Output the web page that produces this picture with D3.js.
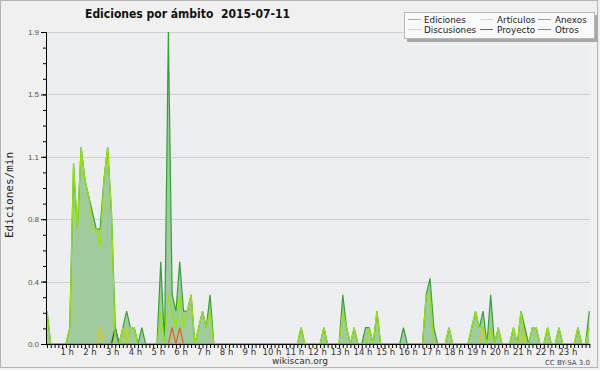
<!DOCTYPE html>
<html>
<head>
<meta charset="utf-8">
<script src="https://cdn.jsdelivr.net/npm/d3@7"></script>
<style>
  body { margin: 0; background: #f0f0f0; }
  svg { display: block; }
</style>
</head>
<body>
<div id="chart"></div>
<script>
// valores cada 10 minutos (ediciones/min), 144 puntos
const ediciones = [
  0.2, 0, 0, 0, 0, 0, 0.1, 1.1, 0.7, 1.2, 1.0, 0.9,
  0.8, 0.7, 0.7, 1.0, 1.2, 0.8, 0.1, 0, 0.1, 0.2, 0.1, 0.1,
  0, 0.1, 0, 0, 0, 0, 0.5, 0, 1.9, 0.3, 0.2, 0.5,
  0.2, 0.2, 0.3, 0, 0.1, 0.2, 0.1, 0.3, 0, 0, 0, 0,
  0, 0, 0, 0, 0, 0, 0, 0, 0, 0, 0, 0,
  0, 0, 0, 0, 0, 0, 0, 0.1, 0, 0, 0, 0,
  0, 0.1, 0, 0, 0, 0, 0.3, 0.1, 0, 0.1, 0, 0,
  0.1, 0.1, 0, 0.2, 0, 0, 0, 0, 0, 0, 0.1, 0,
  0, 0, 0, 0, 0.3, 0.4, 0.1, 0, 0, 0, 0.1, 0,
  0, 0, 0, 0, 0.1, 0.2, 0.1, 0.2, 0, 0.3, 0, 0.1,
  0, 0, 0, 0.1, 0, 0.2, 0.1, 0, 0.1, 0.1, 0, 0,
  0.1, 0, 0, 0.1, 0, 0, 0, 0, 0.1, 0, 0, 0.2
];
const articulos = [
  0.2, 0, 0, 0, 0, 0, 0.1, 1.1, 0.7, 1.2, 1.0, 0.9,
  0.7, 0.7, 0.6, 1.0, 1.2, 0.8, 0, 0, 0.1, 0, 0.1, 0.1,
  0, 0, 0, 0, 0, 0, 0.2, 0, 0.3, 0.2, 0.1, 0.3,
  0.1, 0.2, 0.3, 0, 0.1, 0.2, 0.1, 0.2, 0, 0, 0, 0,
  0, 0, 0, 0, 0, 0, 0, 0, 0, 0, 0, 0,
  0, 0, 0, 0, 0, 0, 0, 0.1, 0, 0, 0, 0,
  0, 0.1, 0, 0, 0, 0, 0.2, 0.1, 0, 0.1, 0, 0,
  0, 0.1, 0, 0.2, 0, 0, 0, 0, 0, 0, 0, 0,
  0, 0, 0, 0, 0.3, 0.3, 0, 0, 0, 0, 0.1, 0,
  0, 0, 0, 0, 0.1, 0.2, 0.1, 0.1, 0, 0.1, 0, 0.1,
  0, 0, 0, 0.1, 0, 0.2, 0, 0, 0.1, 0.1, 0, 0,
  0.1, 0, 0, 0.1, 0, 0, 0, 0, 0.1, 0, 0, 0.1
];
const discusiones = [
  0, 0, 0, 0, 0, 0, 0, 0, 0, 0, 0, 0,
  0, 0, 0.1, 0, 0, 0, 0, 0, 0, 0.1, 0, 0,
  0, 0, 0, 0, 0, 0, 0, 0, 0, 0, 0, 0,
  0, 0, 0, 0, 0, 0, 0, 0, 0, 0, 0, 0,
  0, 0, 0, 0, 0, 0, 0, 0, 0, 0, 0, 0,
  0, 0, 0, 0, 0, 0, 0, 0, 0, 0, 0, 0,
  0, 0, 0, 0, 0, 0, 0, 0, 0, 0, 0, 0,
  0, 0, 0, 0, 0, 0, 0, 0, 0, 0, 0, 0,
  0, 0, 0, 0, 0, 0, 0, 0, 0, 0, 0, 0,
  0, 0, 0, 0, 0, 0, 0, 0.1, 0, 0.1, 0, 0,
  0, 0, 0, 0, 0, 0, 0.1, 0, 0, 0, 0, 0,
  0, 0, 0, 0, 0, 0, 0, 0, 0, 0, 0, 0
];
const anexos = [
  0, 0, 0, 0, 0, 0, 0, 0, 0, 0, 0, 0,
  0, 0, 0, 0, 0, 0, 0, 0, 0, 0, 0, 0,
  0, 0, 0, 0, 0, 0, 0, 0, 0, 0.1, 0, 0.1,
  0, 0, 0, 0, 0, 0, 0, 0, 0, 0, 0, 0,
  0, 0, 0, 0, 0, 0, 0, 0, 0, 0, 0, 0,
  0, 0, 0, 0, 0, 0, 0, 0, 0, 0, 0, 0,
  0, 0, 0, 0, 0, 0, 0, 0, 0, 0, 0, 0,
  0, 0, 0, 0, 0, 0, 0, 0, 0, 0, 0, 0,
  0, 0, 0, 0, 0, 0, 0, 0, 0, 0, 0, 0,
  0, 0, 0, 0, 0, 0, 0, 0, 0, 0, 0, 0,
  0, 0, 0, 0, 0, 0, 0, 0, 0, 0, 0, 0,
  0, 0, 0, 0, 0, 0, 0, 0, 0, 0, 0, 0
];
const proyecto = [
  0, 0, 0, 0, 0, 0, 0, 0, 0, 0, 0, 0,
  0, 0, 0, 0, 0, 0, 0.1, 0, 0, 0, 0, 0,
  0, 0, 0, 0, 0, 0, 0, 0, 0, 0, 0, 0,
  0, 0, 0, 0, 0, 0, 0, 0, 0, 0, 0, 0,
  0, 0, 0, 0, 0, 0, 0, 0, 0, 0, 0, 0,
  0, 0, 0, 0, 0, 0, 0, 0, 0, 0, 0, 0,
  0, 0, 0, 0, 0, 0, 0, 0, 0, 0, 0, 0,
  0, 0, 0, 0, 0, 0, 0, 0, 0, 0, 0, 0,
  0, 0, 0, 0, 0, 0, 0, 0, 0, 0, 0, 0,
  0, 0, 0, 0, 0, 0, 0, 0, 0, 0, 0, 0,
  0, 0, 0, 0, 0, 0, 0, 0, 0, 0, 0, 0,
  0, 0, 0, 0, 0, 0, 0, 0, 0, 0, 0, 0
];
const otros = [
  0, 0, 0, 0, 0, 0, 0, 0, 0, 0, 0, 0,
  0, 0, 0, 0, 0, 0, 0, 0, 0, 0, 0, 0,
  0, 0, 0, 0, 0, 0, 0, 0, 0, 0, 0, 0,
  0, 0, 0, 0, 0, 0, 0, 0, 0, 0, 0, 0,
  0, 0, 0, 0, 0, 0, 0, 0, 0, 0, 0, 0,
  0, 0, 0, 0, 0, 0, 0, 0, 0, 0, 0, 0,
  0, 0, 0, 0, 0, 0, 0, 0, 0, 0, 0, 0,
  0, 0, 0, 0, 0, 0, 0, 0, 0, 0, 0, 0,
  0, 0, 0, 0, 0, 0, 0, 0, 0, 0, 0, 0,
  0, 0, 0, 0, 0, 0, 0, 0, 0, 0, 0, 0,
  0, 0, 0, 0, 0, 0, 0, 0, 0, 0, 0, 0,
  0, 0, 0, 0, 0, 0, 0, 0, 0, 0, 0, 0
];
const hourLabels = ["1 h", "2 h", "3 h", "4 h", "5 h", "6 h", "7 h", "8 h", "9 h", "10 h", "11 h", "12 h",
  "13 h", "14 h", "15 h", "16 h", "17 h", "18 h", "19 h", "20 h", "21 h", "22 h", "23 h"];
const yTicks = [0, 0.38, 0.76, 1.14, 1.52, 1.9];
const legendNames = ["Ediciones", "Artículos", "Anexos", "Discusiones", "Proyecto", "Otros"];

const width = 600;
const height = 370;
const plotLeft = 47, plotRight = 589.3, plotTop = 32, plotBottom = 344;

const svg = d3.select("#chart").append("svg")
  .attr("width", width)
  .attr("height", height)
  .style("font-family", "'DejaVu Sans', sans-serif");

// fondo y marco
svg.append("rect")
  .attr("x", 0.5).attr("y", 0.5)
  .attr("width", 597).attr("height", 367)
  .attr("fill", "#f0f0f0")
  .attr("stroke", "#b4b4b4");

svg.append("rect")
  .attr("x", plotLeft).attr("y", plotTop)
  .attr("width", plotRight - plotLeft + 1).attr("height", plotBottom - plotTop)
  .attr("fill", "#eceef0");

const x = d3.scaleLinear().domain([0, 143]).range([plotLeft, plotRight]);
const y = d3.scaleLinear().domain([0, 1.9]).range([plotBottom, plotTop]);

// líneas de la cuadrícula
svg.append("g")
  .selectAll("line")
  .data(yTicks.slice(1))
  .enter()
  .append("line")
  .attr("x1", plotLeft).attr("x2", plotRight + 1)
  .attr("y1", (d) => Math.round(y(d)) + 0.5)
  .attr("y2", (d) => Math.round(y(d)) + 0.5)
  .attr("stroke", "#cfcfcf");

// clip to hide zero lines under the axis
svg.append("clipPath").attr("id", "plotclip")
  .append("rect")
  .attr("x", 0).attr("y", 0)
  .attr("width", width).attr("height", plotBottom - 0.6);

const area = d3.area()
  .x((d, i) => x(i))
  .y0(y(0))
  .y1((d) => y(d));

const line = d3.line()
  .x((d, i) => x(i))
  .y((d) => y(d));

svg.append("path")
  .datum(ediciones)
  .attr("d", area)
  .attr("fill", "#9fcb9f");

const series = [
  { values: otros, color: "#8a4de8" },
  { values: proyecto, color: "#3c3c3c" },
  { values: anexos, color: "#ee5a1e" },
  { values: discusiones, color: "#f2c200" },
  { values: ediciones, color: "#33a333" },
  { values: articulos, color: "#96e600" }
];

const lines = svg.append("g").attr("clip-path", "url(#plotclip)");
lines.selectAll("path")
  .data(series)
  .enter()
  .append("path")
  .attr("d", (d) => line(d.values))
  .attr("fill", "none")
  .attr("stroke", (d) => d.color)
  .attr("stroke-width", 1.2);

// eje Y
const yAxis = svg.append("g")
  .attr("transform", `translate(${plotLeft - 1},0)`)
  .call(d3.axisLeft(y).tickValues(yTicks).tickSize(5).tickFormat(d3.format(".1f")));
svg.append("g")
  .attr("transform", `translate(${plotLeft - 1},0)`)
  .call(d3.axisLeft(y).tickValues(d3.range(0, 1.9, 0.095)).tickSize(3).tickFormat(""))
  .select(".domain").remove();
yAxis.selectAll("text")
  .attr("font-size", 8)
  .attr("fill", "#555")
  .attr("dx", 1);

// eje X
svg.append("g")
  .attr("transform", `translate(0,${plotBottom})`)
  .call(d3.axisBottom(x).tickValues(d3.range(0, 144)).tickSize(4).tickFormat(""))
  .select(".domain")
  .attr("d", `M${plotLeft - 1},0.5H${plotRight + 1}`);

svg.append("g")
  .selectAll("text")
  .data(hourLabels)
  .enter()
  .append("text")
  .attr("x", (d, i) => x((i + 1) * 6) - 2.5)
  .attr("y", 355)
  .attr("text-anchor", "middle")
  .attr("font-size", 8.5)
  .attr("fill", "#333")
  .text((d) => d);

svg.selectAll(".tick line").attr("stroke", "#000");
svg.selectAll(".domain").attr("stroke", "#000");

// títulos
svg.append("text")
  .attr("x", 85).attr("y", 18)
  .attr("font-size", 12.5)
  .attr("font-weight", "bold")
  .attr("font-family", "'DejaVu Sans Condensed', 'DejaVu Sans', sans-serif")
  .attr("font-stretch", "condensed")
  .attr("fill", "#111")
  .style("white-space", "pre")
  .attr("textLength", 205)
  .attr("lengthAdjust", "spacingAndGlyphs")
  .text("Ediciones por ámbito  2015-07-11");

svg.append("text")
  .attr("transform", "translate(13,195) rotate(-90)")
  .attr("text-anchor", "middle")
  .attr("font-family", "'DejaVu Sans Mono', monospace")
  .attr("font-size", 11)
  .attr("fill", "#222")
  .text("Ediciones/min");

svg.append("text")
  .attr("x", 300).attr("y", 364)
  .attr("text-anchor", "middle")
  .attr("font-size", 9)
  .attr("fill", "#333")
  .text("wikiscan.org");

svg.append("text")
  .attr("x", 590).attr("y", 365)
  .attr("text-anchor", "end")
  .attr("font-size", 7)
  .attr("fill", "#444")
  .text("CC BY-SA 3.0");

// leyenda
const legendColors = ["#88cc88", "#c8ec50", "#ee8a5a", "#f8d850", "#666666", "#9a66ee"];
const legend = svg.append("g");
legend.append("rect")
  .attr("x", 407).attr("y", 15)
  .attr("width", 191).attr("height", 27)
  .attr("fill", "#a8a8a8");
legend.append("rect")
  .attr("x", 404.5).attr("y", 12.5)
  .attr("width", 190).attr("height", 26)
  .attr("fill", "#f9f9f9")
  .attr("stroke", "#b8b8b8");

const colX = [408, 480, 538];
const textX = [424, 497, 555];
const items = legend.selectAll("g.item")
  .data(legendNames)
  .enter()
  .append("g")
  .attr("class", "item");
items.append("line")
  .attr("x1", (d, i) => colX[i % 3])
  .attr("x2", (d, i) => colX[i % 3] + 13)
  .attr("y1", (d, i) => (i < 3 ? 19.5 : 29.5))
  .attr("y2", (d, i) => (i < 3 ? 19.5 : 29.5))
  .attr("stroke", (d, i) => legendColors[i]);
items.append("text")
  .attr("x", (d, i) => textX[i % 3])
  .attr("y", (d, i) => (i < 3 ? 23 : 33))
  .attr("font-size", 8.8)
  .attr("fill", "#222")
  .text((d) => d);
</script>
</body>
</html>
